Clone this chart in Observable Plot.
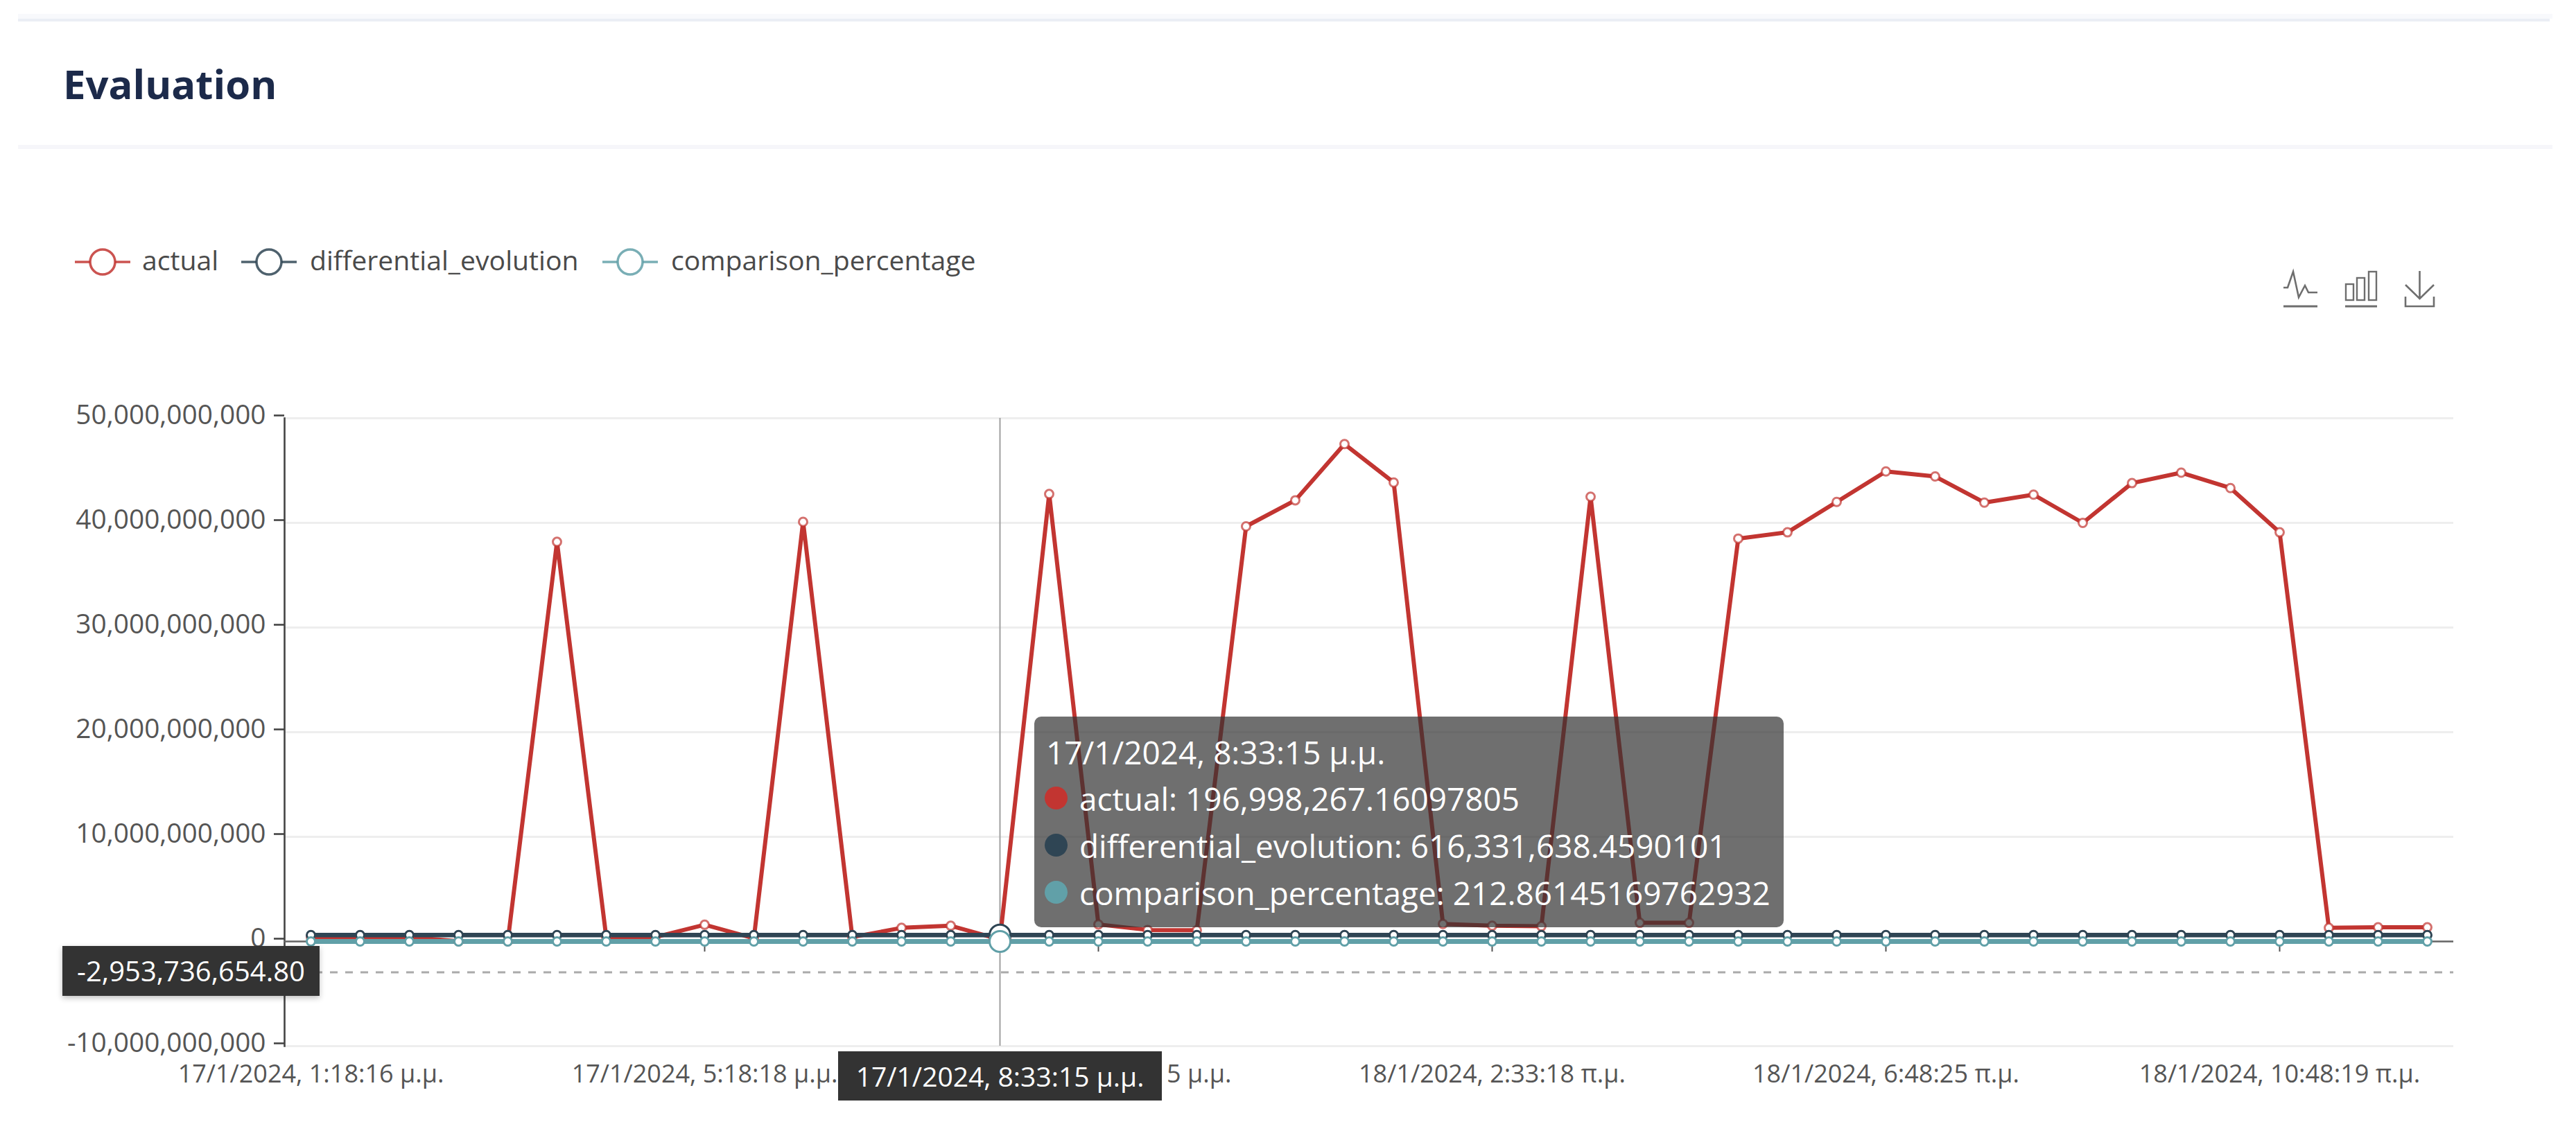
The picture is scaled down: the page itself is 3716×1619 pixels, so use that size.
<!DOCTYPE html>
<html>
<head>
<meta charset="utf-8">
<script src="https://cdn.jsdelivr.net/npm/d3@7"></script>
<script src="https://cdn.jsdelivr.net/npm/@observablehq/plot@0.6"></script>
<style>
html,body{margin:0;padding:0;background:#fff;overflow:hidden;width:3716px;height:1619px;font-family:"Open Sans",sans-serif}
#page{position:relative;width:3716px;height:1619px}
.abs{position:absolute;white-space:nowrap}
#chart{position:absolute;left:0;top:500px}
#chart svg{display:block;background:transparent}
.legend{font-size:39.2px;color:#4a4a4a;line-height:44px}
.row{position:absolute;left:65px;font-size:45.900px;color:#fff;line-height:54px;white-space:nowrap}
.bul{position:absolute;left:15px;width:33px;height:33px;border-radius:50%}
</style>
</head>
<body>
<div id="page">
  <div class="abs" style="left:26px;top:20px;width:3656px;height:7px;background:#f8f9fc"></div>
  <div class="abs" style="left:26px;top:27px;width:3652px;height:4px;background:#ebeef5"></div>
  <div class="abs" style="left:26px;top:209px;width:3656px;height:6px;background:#f6f6fa"></div>
  <div class="abs" style="left:91px;top:81px;font-size:58px;font-weight:700;color:#1c2a4a;line-height:80px">Evaluation</div>
  <div id="chart"></div>
  <svg class="abs" id="deco" style="left:0;top:0" width="3716" height="600" viewBox="0 0 3716 600" fill="none"></svg>
  <div id="legendText"></div>
  <div class="abs" id="ylab" style="left:90px;top:1365px;width:371px;height:72px;background:#333;color:#fff;font-size:40px;line-height:72px;text-align:center;box-shadow:0 3px 8px rgba(0,0,0,.25)"></div>
  <div class="abs" id="xlab" style="left:1209px;top:1517px;width:467px;height:71px;background:#333;color:#fff;font-size:39px;line-height:71px;text-align:center"></div>
  <div class="abs" id="tip" style="left:1492px;top:1034px;width:1081px;height:304px;background:rgba(50,50,50,.7);border-radius:10px"></div>
</div>
<script>
const categories = [
  "17/1/2024, 1:18:16 μ.μ.","17/1/2024, 1:48:17 μ.μ.","17/1/2024, 2:18:16 μ.μ.","17/1/2024, 2:48:18 μ.μ.",
  "17/1/2024, 3:18:17 μ.μ.","17/1/2024, 3:48:16 μ.μ.","17/1/2024, 4:18:17 μ.μ.","17/1/2024, 4:48:18 μ.μ.",
  "17/1/2024, 5:18:18 μ.μ.","17/1/2024, 5:48:17 μ.μ.","17/1/2024, 6:18:16 μ.μ.","17/1/2024, 6:48:15 μ.μ.",
  "17/1/2024, 7:18:16 μ.μ.","17/1/2024, 8:03:17 μ.μ.","17/1/2024, 8:33:15 μ.μ.","17/1/2024, 9:03:16 μ.μ.",
  "17/1/2024, 9:33:15 μ.μ.","17/1/2024, 10:03:16 μ.μ.","17/1/2024, 10:33:17 μ.μ.","17/1/2024, 11:03:18 μ.μ.",
  "17/1/2024, 11:33:17 μ.μ.","18/1/2024, 12:03:17 π.μ.","18/1/2024, 12:33:16 π.μ.","18/1/2024, 1:33:17 π.μ.",
  "18/1/2024, 2:33:18 π.μ.","18/1/2024, 3:03:17 π.μ.","18/1/2024, 3:33:19 π.μ.","18/1/2024, 4:03:18 π.μ.",
  "18/1/2024, 4:33:17 π.μ.","18/1/2024, 5:18:16 π.μ.","18/1/2024, 5:48:17 π.μ.","18/1/2024, 6:18:18 π.μ.",
  "18/1/2024, 6:48:25 π.μ.","18/1/2024, 7:18:19 π.μ.","18/1/2024, 7:48:20 π.μ.","18/1/2024, 8:18:18 π.μ.",
  "18/1/2024, 8:48:17 π.μ.","18/1/2024, 9:18:16 π.μ.","18/1/2024, 9:48:18 π.μ.","18/1/2024, 10:18:17 π.μ.",
  "18/1/2024, 10:48:19 π.μ.","18/1/2024, 11:18:16 π.μ.","18/1/2024, 11:48:17 π.μ.","18/1/2024, 12:18:18 μ.μ."
];
const actual = [
  0.42e9,0.42e9,0.42e9,0.02e9,0.02e9,38.19e9,0.42e9,0.42e9,1.6e9,0.3e9,40.1e9,0.42e9,
  1.3e9,1.5e9,196998267.16097805,42.76e9,1.63e9,1.1e9,1.08e9,39.67e9,42.16e9,47.53e9,
  43.86e9,1.68e9,1.5e9,1.45e9,42.5e9,1.78e9,1.78e9,38.5e9,39.1e9,42.0e9,44.92e9,44.44e9,
  41.94e9,42.7e9,40.0e9,43.8e9,44.8e9,43.33e9,39.1e9,1.3e9,1.35e9,1.35e9
];
const differentialEvolution = [
  616331638,616331638,616331638,616331638,616331638,616331638,616331638,616331638,616331638,616331638,616331638,616331638,
  616331638,616331638,616331638.4590101,616331638,616331638,616331638,616331638,616331638,616331638,616331638,
  616331638,616331638,616331638,616331638,616331638,616331638,616331638,616331638,616331638,616331638,616331638,616331638,
  616331638,616331638,616331638,616331638,616331638,616331638,616331638,616331638,616331638,616331638
];
const comparisonPercentage = [
  70,70,70,100,100,60,70,70,60,130,60,70,60,60,212.86145169762932,60,60,60,60,60,60,60,
  60,60,60,60,60,60,60,60,60,60,60,60,60,60,60,60,60,60,60,60,60,60
];
const yTicks = [-10e9,0,10e9,20e9,30e9,40e9,50e9];
const xTickEvery = 8;
const hoverIndex = 14;
const meanValue = -2953736654.80;
const colors = {actual:"#c23531",differential_evolution:"#2f4554",comparison_percentage:"#61a0a8"};

const cats = categories;
const rows = s => cats.map((c,i)=>({c,v:s[i]}));
const A = rows(actual), D = rows(differentialEvolution), C = rows(comparisonPercentage);
const xTicks = cats.filter((_,i)=>i%xTickEvery===0);
const fmt = d3.format(",");
const hyphen = v => fmt(v).replace("−","-");
const hover = cats[hoverIndex];

const plot = Plot.plot({
  width:3716, height:1119,
  marginLeft:410, marginRight:177, marginTop:103, marginBottom:110,
  style:{fontFamily:'"Open Sans",sans-serif',background:"transparent",overflow:"visible"},
  x:{type:"point",domain:cats,padding:0.5},
  y:{domain:[-10e9,50e9],nice:false},
  marks:[
    Plot.gridY(yTicks,{stroke:"#eeeeee",strokeOpacity:1,strokeWidth:3}),
    Plot.frame({anchor:"left",stroke:"#444",strokeWidth:2.6}),
    Plot.ruleY([0],{stroke:"#666",strokeWidth:2.6}),
    Plot.ruleX(xTicks,{y1:0,y2:-1e9,stroke:"#555",strokeWidth:2}),
    Plot.ruleY([meanValue],{stroke:"#aaaaaa",strokeWidth:3,strokeDasharray:"11 11"}),
    Plot.ruleX([hover],{stroke:"#a0a0a0",strokeWidth:2}),
    Plot.axisY({ticks:yTicks,tickFormat:hyphen,tickSize:15,tickPadding:12,fontSize:38.8,color:"#555",stroke:"#444",strokeWidth:2.6,label:null,textStroke:"none",dy:-4}),
    Plot.axisX({ticks:xTicks,tickSize:0,tickPadding:27,fontSize:36,color:"#555",label:null}),
    Plot.lineY(A,{x:"c",y:"v",stroke:colors.actual,strokeWidth:6}),
    Plot.lineY(D,{x:"c",y:"v",stroke:colors.differential_evolution,strokeWidth:6.5}),
    Plot.lineY(C,{x:"c",y:"v",stroke:colors.comparison_percentage,strokeWidth:7}),
    Plot.dot(A,{x:"c",y:"v",r:6,fill:"#fff",stroke:colors.actual,strokeWidth:3,strokeOpacity:.7}),
    Plot.dot(D,{x:"c",y:"v",r:6,fill:"#fff",stroke:colors.differential_evolution,strokeWidth:3}),
    Plot.dot(C,{x:"c",y:"v",r:6,fill:"#fff",stroke:colors.comparison_percentage,strokeWidth:3}),
    Plot.dot([A[hoverIndex]],{x:"c",y:"v",r:15,fill:"#fff",stroke:colors.actual,strokeWidth:3}),
    Plot.dot([D[hoverIndex]],{x:"c",y:"v",r:15,fill:"#fff",stroke:colors.differential_evolution,strokeWidth:3}),
    Plot.dot([C[hoverIndex]],{x:"c",y:"v",r:15,fill:"#fff",stroke:colors.comparison_percentage,strokeWidth:3})
  ]
});
document.getElementById("chart").append(plot);

// legend + toolbox
const legendItems = [
  {name:"actual",color:colors.actual,cx:148,tx:205},
  {name:"differential_evolution",color:colors.differential_evolution,cx:388,tx:447},
  {name:"comparison_percentage",color:colors.comparison_percentage,cx:909,tx:968}
];
const deco = document.getElementById("deco");
let s = "";
for (const l of legendItems) {
  s += `<line x1="${l.cx-40}" x2="${l.cx+40}" y1="378" y2="378" stroke="${l.color}" stroke-width="3.5" stroke-opacity=".85"/>`;
  s += `<circle cx="${l.cx}" cy="378" r="18" fill="#fff" stroke="${l.color}" stroke-width="3.5" stroke-opacity=".85"/>`;
}
const g = "#6e6e6e";
s += `<polyline points="3294,415 3300,415 3308,392 3316,429 3325,412 3330,422 3343,422" stroke="${g}" stroke-width="2.6"/>`;
s += `<line x1="3294" x2="3343" y1="442" y2="442" stroke="${g}" stroke-width="3"/>`;
s += `<rect x="3384" y="410" width="11" height="23" stroke="${g}" stroke-width="2.4"/><rect x="3400" y="401" width="11" height="32" stroke="${g}" stroke-width="2.4"/><rect x="3417" y="392" width="11" height="41" stroke="${g}" stroke-width="2.4"/>`;
s += `<line x1="3383" x2="3429" y1="442" y2="442" stroke="${g}" stroke-width="3"/>`;
s += `<path d="M3490.500 391V431M3470 411L3490.500 431L3511 411M3470 428V442H3511V428" stroke="${g}" stroke-width="2.6"/>`;
deco.innerHTML = s;
document.getElementById("legendText").innerHTML = legendItems.map(l=>`<div class="abs legend" style="left:${l.tx}px;top:353px">${l.name}</div>`).join("");

document.getElementById("ylab").textContent = d3.format(",.2f")(meanValue).replace("−","-");
document.getElementById("xlab").textContent = hover;
const tipRows = [
  ["actual",colors.actual,"196,998,267.16097805"],
  ["differential_evolution",colors.differential_evolution,"616,331,638.4590101"],
  ["comparison_percentage",colors.comparison_percentage,"212.86145169762932"]
];
document.getElementById("tip").innerHTML =
  `<div class="row" style="left:17px;top:24px">${hover}</div>`+
  tipRows.map((r,i)=>`<div class="bul" style="top:${101+68*i}px;background:${r[1]}"></div><div class="row" style="top:${91+68*i}px">${r[0]}: ${r[2]}</div>`).join("");
</script>
</body>
</html>
